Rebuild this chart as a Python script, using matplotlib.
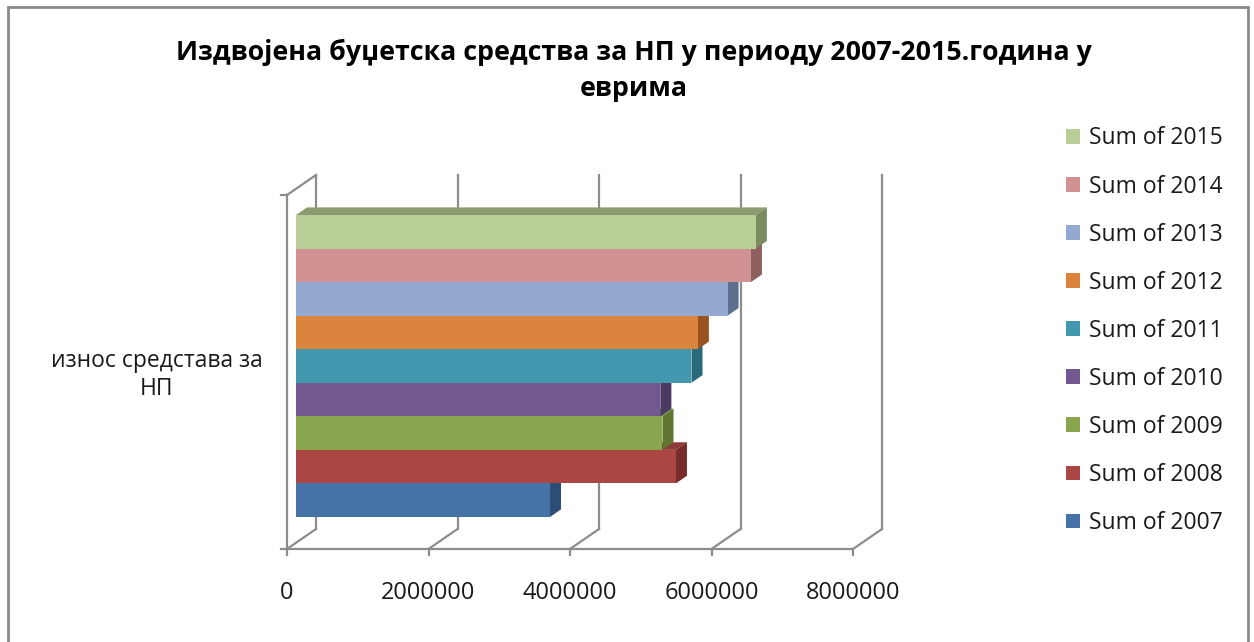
"""
Budget funds for NP 2007-2015, Excel-style 3D clustered bar chart
"""
import matplotlib.pyplot as plt
import matplotlib.patches as patches
import numpy as np

plt.rcParams['font.family'] = ['Open Sans', 'DejaVu Sans']

years = ["2007", "2008", "2009", "2010", "2011", "2012", "2013", "2014", "2015"]
values = [3590000, 5370000, 5180000, 5150000, 5590000, 5680000, 6100000, 6430000, 6500000]
front_colours = ["#4572A7", "#AA4643", "#89A54E", "#71588F", "#4198AF",
                 "#DB843D", "#93A9CF", "#D19392", "#B9CD96"]
side_colours = ["#2C4D75", "#772C2A", "#5F7530", "#4B3A62", "#276A7C",
                "#98531F", "#5E6F8E", "#8D5F5E", "#7A8B5F"]
top_colours = ["#3A5F8C", "#8E3A38", "#728A41", "#5E4A77", "#377F92",
               "#B76E33", "#7B8DAD", "#AE7B7A", "#8C9C70"]
category = "износ средстава за\nНП"
xticks = [0, 2000000, 4000000, 6000000, 8000000]
title = "Издвојена буџетска средства за НП у периоду 2007-2015.година у\nеврима"

W, H = 1254, 642
fig = plt.figure(figsize=(W / 100, H / 100), dpi=100)

# front plane of the plot box, in pixels
x0, x1, yb, yt = 287, 853, 549, 195
ax = fig.add_axes([x0 / W, (H - yb) / H, (x1 - x0) / W, (yb - yt) / H])
ax.set_xlim(0, 8000000)
ax.set_ylim(0, 1)
ax.axis('off')

# depth vector (29 px right, 20 px up) in data units
ddx = 29 * 8000000 / (x1 - x0)
ddy = 20 / (yb - yt)

grid = dict(color="#8c8c8c", lw=1.6, clip_on=False, zorder=1)
for t in xticks:
    ax.plot([t + ddx, t + ddx], [ddy, 1 + ddy], **grid)
    ax.plot([t, t + ddx], [0, ddy], **grid)
    ax.plot([t, t], [0, -6 / (yb - yt)], **grid)
ax.plot([0, 8000000], [0, 0], **grid)
ax.plot([0, 0], [0, 1], **grid)
ax.plot([0, ddx], [1, 1 + ddy], **grid)
for yy in (0, 1):
    ax.plot([0, -6 * 8000000 / (x1 - x0)], [yy, yy], **grid)

# bars sit between 31% and 69% of the depth
f1, f2 = 0.31, 0.69
span0, span1 = 0.073, 0.926
bh = (span1 - span0) / len(values)
ox, oy = f1 * ddx, f1 * ddy
dx, dy = (f2 - f1) * ddx, (f2 - f1) * ddy
for i, v in enumerate(values):
    y0 = span0 + i * bh + oy
    y1 = y0 + bh
    z = 3 + i
    top = patches.Polygon([(ox, y1), (ox + v, y1), (ox + v + dx, y1 + dy), (ox + dx, y1 + dy)],
                          closed=True, fc=top_colours[i], ec='none', zorder=z, clip_on=False)
    side = patches.Polygon([(ox + v, y0), (ox + v + dx, y0 + dy), (ox + v + dx, y1 + dy), (ox + v, y1)],
                           closed=True, fc=side_colours[i], ec='none', zorder=z, clip_on=False)
    ax.add_patch(top)
    ax.add_patch(side)
    ax.barh(y0, v, height=bh, left=ox, align='edge', color=front_colours[i],
            zorder=z + 0.5, clip_on=False, label="Sum of " + years[i])

for t in xticks:
    ax.text(t, -44 / (yb - yt), str(t), ha='center', va='center',
            fontsize=17, color="#1a1a1a")

fig.text(157 / W, 1 - 375 / H, category, ha='center', va='center',
         fontsize=16.5, color="#1a1a1a", linespacing=1.25)

fig.text(634 / W, 1 - 70 / H, title, ha='center', va='center',
         fontsize=19.3, fontweight='bold', color="#000000", linespacing=1.5)

handles, labels = ax.get_legend_handles_labels()
fig.legend(handles[::-1], labels[::-1], loc='upper left',
           bbox_to_anchor=(1055 / W, 1 - 115 / H), frameon=False,
           fontsize=16.5, handlelength=0.6, handleheight=0.6,
           handletextpad=0.4, labelspacing=1.05, borderpad=0,
           labelcolor="#1a1a1a")

border = patches.Rectangle((8 / W, -0.05), 1240 / W, 1.05 - 7 / H,
                           transform=fig.transFigure, fill=False,
                           ec="#8a8a8a", lw=2)
fig.add_artist(border)

fig.savefig("out.png", dpi=100)
